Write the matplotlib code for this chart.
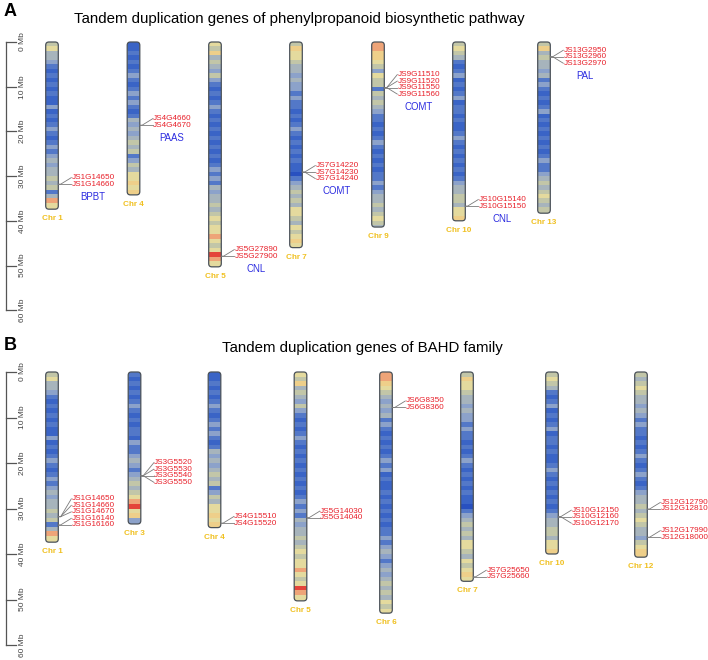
import matplotlib
matplotlib.use('Agg')
import matplotlib.pyplot as plt
from matplotlib.patches import FancyBboxPatch

plt.rcParams['font.family'] = ['Liberation Sans', 'DejaVu Sans']

# ---------------- data ----------------
chrom_length_mb = {
    'Chr 1': 37.4, 'Chr 3': 33.4, 'Chr 4': 34.2, 'Chr 5': 50.3, 'Chr 6': 53.0,
    'Chr 7': 46.0, 'Chr 9': 41.4, 'Chr 10': 40.0, 'Chr 12': 40.7, 'Chr 13': 38.3,
}
# gene density class per 1 Mb bin (0 = low / blue ... 9 = high / red)
density_chr1 = [5, 6, 4, 4, 3, 2, 1, 2, 1, 2, 1, 2, 1, 1, 3, 1, 2, 1, 2, 3, 2, 1, 2, 3, 2,
                3, 4, 3, 4, 4, 5, 4, 5, 2, 4, 8, 6, 6]
density_chr3 = [2, 1, 2, 1, 2, 1, 2, 3, 2, 1, 2, 1, 2, 2, 1, 3, 2, 2, 3, 4, 3, 2, 3, 4, 5,
                4, 5, 6, 8, 9, 6, 7, 3, 3]
density_chr4 = [1, 1, 2, 1, 2, 1, 2, 3, 2, 1, 2, 3, 2, 3, 2, 1, 2, 4, 3, 4, 3, 4, 5, 4, 5,
                2, 3, 5, 4, 6, 6, 7, 6, 7, 6]
density_chr5 = [6, 5, 7, 4, 5, 4, 3, 5, 3, 2, 1, 2, 1, 2, 3, 2, 1, 2, 1, 2, 1, 2, 1, 2, 1,
                2, 1, 2, 3, 2, 3, 2, 4, 3, 4, 4, 5, 4, 5, 6, 5, 6, 6, 8, 6, 5, 6, 9, 8, 6, 6]
density_chr6 = [8, 8, 7, 6, 5, 4, 3, 4, 3, 4, 2, 3, 2, 1, 2, 1, 2, 1, 2, 3, 2, 3, 1, 2, 1,
                1, 2, 1, 2, 1, 2, 1, 2, 1, 2, 2, 3, 2, 3, 4, 3, 2, 3, 4, 3, 4, 5, 4, 5, 4,
                6, 5, 6]
density_chr7 = [5, 7, 6, 6, 5, 4, 4, 3, 4, 3, 3, 2, 3, 2, 2, 1, 2, 1, 2, 3, 2, 1, 2, 1, 2,
                1, 2, 1, 1, 0, 2, 3, 4, 5, 4, 5, 4, 6, 6, 5, 4, 6, 5, 6, 7, 6]
density_chr9 = [8, 8, 7, 7, 6, 5, 3, 6, 5, 5, 2, 5, 4, 5, 4, 3, 2, 2, 1, 2, 1, 2, 3, 2, 1,
                2, 1, 2, 1, 2, 2, 3, 2, 3, 4, 4, 5, 4, 5, 6, 5, 4]
density_chr10 = [5, 6, 5, 4, 2, 1, 2, 3, 1, 2, 1, 2, 3, 1, 2, 2, 1, 2, 1, 1, 2, 3, 2, 1, 2,
                 1, 2, 1, 2, 1, 2, 3, 4, 4, 5, 5, 4, 6, 6, 7]
density_chr12 = [5, 4, 5, 6, 5, 4, 4, 3, 4, 3, 2, 3, 2, 2, 1, 2, 1, 2, 3, 2, 1, 2, 3, 2, 1,
                 2, 3, 4, 4, 5, 4, 5, 6, 5, 4, 4, 3, 5, 6, 7, 7]
density_chr13 = [5, 7, 4, 5, 4, 4, 3, 4, 2, 3, 2, 1, 2, 1, 2, 3, 1, 2, 1, 2, 1, 2, 1, 2, 1,
                 2, 3, 2, 2, 3, 4, 5, 4, 5, 6, 5, 4, 5, 5]
density = {'Chr 1': density_chr1, 'Chr 3': density_chr3, 'Chr 4': density_chr4,
           'Chr 5': density_chr5, 'Chr 6': density_chr6, 'Chr 7': density_chr7,
           'Chr 9': density_chr9, 'Chr 10': density_chr10, 'Chr 12': density_chr12,
           'Chr 13': density_chr13}

panelA_chroms = ['Chr 1', 'Chr 4', 'Chr 5', 'Chr 7', 'Chr 9', 'Chr 10', 'Chr 13']
panelA_genes = {
    'Chr 1': [(['JS1G14650', 'JS1G14660'], 31.8)],
    'Chr 4': [(['JS4G4660', 'JS4G4670'], 18.6)],
    'Chr 5': [(['JS5G27890', 'JS5G27900'], 47.9)],
    'Chr 7': [(['JS7G14220', 'JS7G14230', 'JS7G14240'], 29.1)],
    'Chr 9': [(['JS9G11510', 'JS9G11520', 'JS9G11550', 'JS9G11560'], 10.2)],
    'Chr 10': [(['JS10G15140', 'JS10G15150'], 36.7)],
    'Chr 13': [(['JS13G2950', 'JS13G2960', 'JS13G2970'], 3.3)],
}
panelA_family = {'Chr 1': 'BPBT', 'Chr 4': 'PAAS', 'Chr 5': 'CNL', 'Chr 7': 'COMT',
                 'Chr 9': 'COMT', 'Chr 10': 'CNL', 'Chr 13': 'PAL'}

panelB_chroms = ['Chr 1', 'Chr 3', 'Chr 4', 'Chr 5', 'Chr 6', 'Chr 7', 'Chr 10', 'Chr 12']
panelB_genes = {
    'Chr 1': [(['JS1G14650', 'JS1G14660', 'JS1G14670'], 31.8),
              (['JS1G16140', 'JS1G16160'], 33.6)],
    'Chr 3': [(['JS3G5520', 'JS3G5530', 'JS3G5540', 'JS3G5550'], 22.8)],
    'Chr 4': [(['JS4G15510', 'JS4G15520'], 33.2)],
    'Chr 5': [(['JS5G14030', 'JS5G14040'], 32.0)],
    'Chr 6': [(['JS6G8350', 'JS6G8360'], 7.8)],
    'Chr 7': [(['JS7G25650', 'JS7G25660'], 45.0)],
    'Chr 10': [(['JS10G12150', 'JS10G12160', 'JS10G12170'], 31.8)],
    'Chr 12': [(['JS12G12790', 'JS12G12810'], 30.1),
               (['JS12G17990', 'JS12G18000'], 36.3)],
}
scale_ticks_mb = [0, 10, 20, 30, 40, 50, 60]

titleA = 'Tandem duplication genes of phenylpropanoid biosynthetic pathway'
titleB = 'Tandem duplication genes of BAHD family'

# ---------------- style / layout ----------------
density_colors = ['#2850c0', '#3a64c6', '#5378c8', '#8ca2ca', '#a7b4bc',
                  '#c2c6a8', '#e4da9e', '#eecf8a', '#eea478', '#e4443a']
W, H = 708, 660
ppmA, ppmB = 4.47, 4.55      # pixels per Mb
centersA = [52, 133.5, 215, 296, 378, 459, 544]
centersB = [52, 134.5, 214.5, 300.5, 386, 467, 552, 641]
chrom_w = 12.6
gene_color = '#e8202a'
fam_color = '#2c2ce0'
chr_label_color = '#f0c020'
line_color = '#7a7a7a'

fig = plt.figure(figsize=(W / 100, H / 100), dpi=100)


def make_axes(row_top, row_bot, zero_row, ppm):
    ax = fig.add_axes([0, 1 - row_bot / H, 1, (row_bot - row_top) / H])
    ax.set_xlim(0, W)
    ax.set_ylim((row_bot - zero_row) / ppm, (row_top - zero_row) / ppm)
    ax.axis('off')
    return ax


def draw_panel(ax, chroms, centers, genes, family, ppm):
    sp = 6.5 / ppm
    # scale bar
    ax.plot([6, 6], [scale_ticks_mb[0], scale_ticks_mb[-1]], color='#555555', lw=0.9)
    for t in scale_ticks_mb:
        ax.plot([6, 16], [t, t], color='#555555', lw=0.9)
        ax.text(23, t, f'{t} Mb', rotation=90, ha='center', va='center',
                fontsize=6, color='#444444')
    for name, cx in zip(chroms, centers):
        L = chrom_length_mb[name]
        vals = density[name]
        n = len(vals)
        bottoms = list(range(n))
        heights = [min(1.0, L - b) for b in bottoms]
        outline = FancyBboxPatch((cx - chrom_w / 2, 0), chrom_w, L,
                                 boxstyle='round,pad=0,rounding_size=3.2',
                                 mutation_aspect=1 / ppm, fc='none',
                                 ec='#4a5158', lw=0.9, zorder=3)
        ax.add_patch(outline)
        bars = ax.bar([cx] * n, heights, bottom=bottoms, width=chrom_w,
                      color=[density_colors[v] for v in vals], linewidth=0,
                      antialiased=False, zorder=2)
        for b in bars:
            b.set_clip_path(outline)
        ax.text(cx, L + 9.5 / ppm, name, ha='center', va='center', fontsize=5.9,
                fontweight='bold', color=chr_label_color)
        # gene labels
        groups = genes.get(name, [])
        xr = cx + chrom_w / 2
        label_pos = []
        for names, pos in groups:
            k = len(names)
            label_pos.append([pos + (i - k // 2) * sp for i in range(k)])
        for gi in range(len(groups) - 2, -1, -1):
            limit = label_pos[gi + 1][0] - sp
            if label_pos[gi][-1] > limit:
                shift = label_pos[gi][-1] - limit
                label_pos[gi] = [p - shift for p in label_pos[gi]]
        last_y = None
        for (names, pos), lps in zip(groups, label_pos):
            for nm, ly in zip(names, lps):
                ax.plot([xr, xr + 2.4, xr + 13], [pos, pos, ly], color=line_color,
                        lw=0.6, zorder=4)
                ax.text(xr + 13.5, ly, nm, ha='left', va='center', fontsize=5.9,
                        color=gene_color)
            last_y = lps[-1]
        if name in family and groups:
            longest = max(len(nm) for nm in groups[0][0])
            ax.text(xr + 13.5 + longest * 2.35, last_y + 12.5 / ppm, family[name],
                    ha='center', va='center', fontsize=6.9, color=fam_color)


axA = make_axes(0, 325, 42, ppmA)
draw_panel(axA, panelA_chroms, centersA, panelA_genes, panelA_family, ppmA)
axB = make_axes(325, 660, 372, ppmB)
draw_panel(axB, panelB_chroms, centersB, panelB_genes, {}, ppmB)

fig.text(4 / W, 1 - 11 / H, 'A', fontsize=13, fontweight='bold', ha='left', va='center')
fig.text(4 / W, 1 - 345 / H, 'B', fontsize=13, fontweight='bold', ha='left', va='center')
fig.text(299 / W, 1 - 19 / H, titleA, fontsize=10.8, ha='center', va='center')
fig.text(362 / W, 1 - 348 / H, titleB, fontsize=10.8, ha='center', va='center')

fig.savefig('out.png', dpi=100, facecolor='white')
